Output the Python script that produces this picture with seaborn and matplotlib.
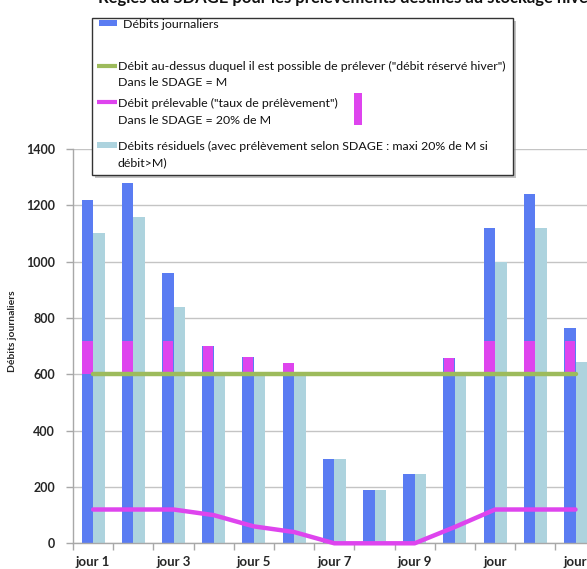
import numpy as np
import pandas as pd
import matplotlib
matplotlib.use("Agg")
import matplotlib.pyplot as plt
from matplotlib.patches import Rectangle
from matplotlib.lines import Line2D
import seaborn as sns

# ---- data -----------------------------------------------------------------
jours = ["jour 1", "jour 2", "jour 3", "jour 4", "jour 5", "jour 6", "jour 7",
         "jour 8", "jour 9", "jour 10", "jour 11", "jour 12", "jour 13"]
tick_labels = ["jour 1", "", "jour 3", "", "jour 5", "", "jour 7", "",
               "jour 9", "", "jour\n11", "", "jour\n13"]
debits_journaliers = [1220, 1280, 960, 700, 660, 640, 300, 190, 245, 658, 1120, 1240, 765]
debits_residuels = [1100, 1160, 840, 600, 600, 600, 300, 190, 245, 600, 1000, 1120, 645]
debit_prelevable = [120, 120, 120, 100, 60, 40, 0, 0, 0, 58, 120, 120, 120]
debit_reserve = [600, 600, 600, 600, 600, 600, 600, 600, 600, 600, 600, 600, 600]

S_J = "Débits journaliers"
S_R = "Débits résiduels (avec prélèvement selon SDAGE : maxi 20% de M si\ndébit>M)"
L_RES = "Débit au-dessus duquel il est possible de prélever (\"débit réservé hiver\")\nDans le SDAGE = M"
L_PREL = "Débit prélevable (\"taux de prélèvement\")\nDans le SDAGE = 20% de M"
TITLE = "Règles du SDAGE pour les prélèvements destinés au stockage hiver"

BLUE = "#5a7cf2"
LIGHT = "#add3de"
PINK = "#de44ee"
GREEN = "#9dbb5c"
GRID = "#c4c4c4"
AXIS = "#a8a8a8"

sns.set_style("white")
plt.rcParams["font.family"] = ["Lato", "DejaVu Sans"]

W, H = 587, 569
fig = plt.figure(figsize=(W / 100, H / 100), dpi=100)


def fx(x):
    return x / W


def fy(y):
    return 1 - y / H


# plot area (extends a little past the right edge of the canvas)
ax = fig.add_axes([fx(73), fy(543.3), 522.6 / W, 394.3 / H])

bars = pd.DataFrame({
    "jour": jours * 2,
    "serie": [S_J] * len(jours) + [S_R] * len(jours),
    "valeur": debits_journaliers + debits_residuels,
})
palette = {S_J: BLUE, S_R: LIGHT}
sns.barplot(data=bars, x="jour", y="valeur", hue="serie", hue_order=[S_J, S_R],
            palette=palette, width=0.57, saturation=1, linewidth=0,
            legend=False, ax=ax, zorder=2)

# withdrawable share stacked on the reserved flow, inside the daily-flow bar
prel = pd.DataFrame({"jour": jours, "serie": [S_J] * len(jours),
                     "valeur": debit_prelevable})
sns.barplot(data=prel, x="jour", y="valeur", hue="serie", hue_order=[S_J, S_R],
            palette={S_J: PINK, S_R: PINK}, width=0.57, gap=0.1, dodge=True,
            saturation=1, linewidth=0, bottom=debit_reserve[0], legend=False,
            ax=ax, zorder=3)

pos = np.arange(len(jours))
sns.lineplot(x=pos, y=debit_reserve, color=GREEN, lw=3.2, ax=ax, zorder=4,
             legend=False)
sns.lineplot(x=pos, y=debit_prelevable, color=PINK, lw=3.2, ax=ax, zorder=4,
             legend=False, clip_on=False)

ax.set_xlim(-0.5, len(jours) - 0.5)
ax.set_ylim(0, 1400)
ax.set_yticks(np.arange(0, 1401, 200))
ax.set_yticklabels([str(v) for v in np.arange(0, 1401, 200)],
                   fontsize=9, fontweight="bold")
ax.yaxis.grid(True, color=GRID, lw=1)
ax.xaxis.grid(False)
ax.set_axisbelow(True)

ax.set_xticks(pos)
ax.set_xticklabels(tick_labels, fontsize=9.5, fontweight="bold", va="top",
                   linespacing=1.1)
ax.set_xticks(np.arange(-0.5, len(jours), 1), minor=True)
ax.tick_params(axis="x", which="major", length=0, pad=9)
ax.tick_params(axis="x", which="minor", length=5, color=AXIS, width=1,
               direction="out", bottom=True)
ax.tick_params(axis="y", length=5, color=AXIS, width=1, direction="out",
               left=True, pad=8)
ax.set_xlabel("")
ax.set_ylabel("Débits journaliers", fontsize=7.5, fontweight="bold")
ax.yaxis.set_label_coords((17 - 73) / 522.6, (543.3 - 331) / 394.3)

for side in ("top", "right"):
    ax.spines[side].set_visible(False)
for side in ("left", "bottom"):
    ax.spines[side].set_color(AXIS)
    ax.spines[side].set_linewidth(1)

# title (top of the canvas)
fig.text(fx(98), fy(-2), TITLE, ha="left", va="center", fontsize=12,
         fontweight="bold", color="#111111")

# ---- legend box ------------------------------------------------------------
lx0, ly0, lx1, ly1 = 92, 18, 513, 175
fig.patches.append(Rectangle((fx(lx0 + 3), fy(ly1 + 3)), (lx1 - lx0) / W,
                             (ly1 - ly0) / H, transform=fig.transFigure,
                             facecolor="#9a9a9a", edgecolor="none", zorder=5,
                             alpha=0.6))
fig.patches.append(Rectangle((fx(lx0), fy(ly1)), (lx1 - lx0) / W,
                             (ly1 - ly0) / H, transform=fig.transFigure,
                             facecolor="white", edgecolor="#333333", lw=1,
                             zorder=6))

TXT = dict(fontsize=8.9, ha="left", va="center", color="#111111", zorder=8)


def key_patch(x0, x1, yc, h, color):
    fig.patches.append(Rectangle((fx(x0), fy(yc + h / 2)), (x1 - x0) / W, h / H,
                                 transform=fig.transFigure, facecolor=color,
                                 edgecolor="none", zorder=7))


def key_line(x0, x1, yc, color):
    fig.lines.append(Line2D([fx(x0), fx(x1)], [fy(yc), fy(yc)],
                            transform=fig.transFigure, color=color, lw=3,
                            solid_capstyle="butt", zorder=7))


key_patch(99, 117, 23, 6, BLUE)
fig.text(fx(123), fy(24), S_J, **TXT)

key_line(97, 117, 66, GREEN)
for i, line in enumerate(L_RES.split("\n")):
    fig.text(fx(118), fy(66 + 16 * i), line, **TXT)

key_line(97, 117, 102, PINK)
for i, line in enumerate(L_PREL.split("\n")):
    fig.text(fx(118), fy(103 + 17 * i), line, **TXT)
key_patch(354, 362, 109, 32, PINK)

key_patch(97, 117, 145, 6, LIGHT)
for i, line in enumerate(S_R.split("\n")):
    fig.text(fx(118), fy(146 + 17 * i), line, **TXT)

fig.savefig("out.png", dpi=100)
